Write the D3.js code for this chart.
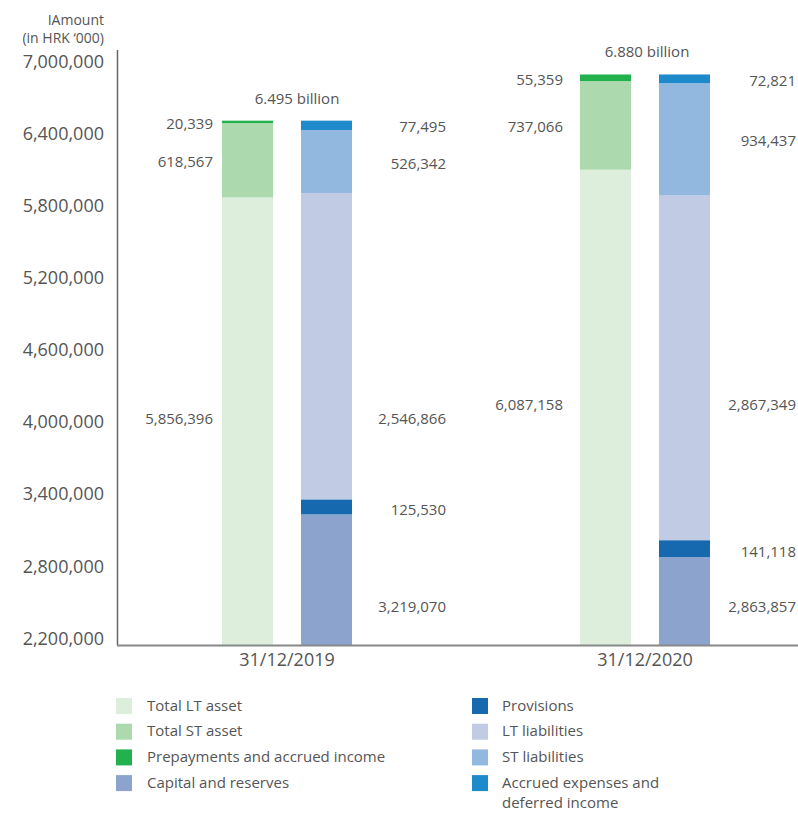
<!DOCTYPE html>
<html>
<head>
<meta charset="utf-8">
<script src="https://cdn.jsdelivr.net/npm/d3@7"></script>
<style>
  html, body { margin: 0; padding: 0; background: #fff; }
  svg { display: block; font-family: "Open Sans", sans-serif; }
</style>
</head>
<body>
<svg id="chart" width="798" height="813"></svg>
<script>
// ---------------- data ----------------
const categories = ["31/12/2019", "31/12/2020"];
const totalLTAsset = [5856396, 6087158];
const totalSTAsset = [618567, 737066];
const prepayments = [20339, 55359];
const capitalReserves = [3219070, 2863857];
const provisions = [125530, 141118];
const ltLiabilities = [2546866, 2867349];
const stLiabilities = [526342, 934437];
const accruedExpenses = [77495, 72821];
const totalLabels = ["6.495 billion", "6.880 billion"];
const yTicks = [2200000, 2800000, 3400000, 4000000, 4600000, 5200000, 5800000, 6400000, 7000000];

const seriesNames = {
  ltAsset: ["Total LT asset"], stAsset: ["Total ST asset"], prepay: ["Prepayments and accrued income"],
  capital: ["Capital and reserves"], prov: ["Provisions"], ltLiab: ["LT liabilities"],
  stLiab: ["ST liabilities"], accrued: ["Accrued expenses and", "deferred income"]
};
const colors = {
  ltAsset: "#DDEEDC", stAsset: "#ADD9AE", prepay: "#22B14C", capital: "#8BA3CD",
  prov: "#1669AE", ltLiab: "#C1CBE4", stLiab: "#93B8E0", accrued: "#1E89CB"
};

// ---------------- setup ----------------
const svg = d3.select("#chart");
const textColor = "#555";
const fmt = d3.format(",");

const x0 = d3.scaleBand().domain(categories).range([108, 824]);
const x1 = d3.scaleBand().domain(["assets", "liabilities"]).range([114, 244]).paddingInner(0.3544);
const xl = d3.scaleBand().domain(categories).range([113, 813]); // label layout
const y = d3.scaleLinear().domain([2133000, 7000000]).range([645, 60]).clamp(true);

const rows = categories.map((c, i) => ({
  cat: c,
  ltAsset: totalLTAsset[i], stAsset: totalSTAsset[i], prepay: prepayments[i],
  capital: capitalReserves[i], prov: provisions[i], ltLiab: ltLiabilities[i],
  stLiab: stLiabilities[i], accrued: accruedExpenses[i]
}));
const assetKeys = ["ltAsset", "stAsset", "prepay"];
const liabKeys = ["capital", "prov", "ltLiab", "stLiab", "accrued"];
const assetStack = d3.stack().keys(assetKeys)(rows);
const liabStack = d3.stack().keys(liabKeys)(rows);

// ---------------- axes ----------------
const yAxis = svg.append("g").attr("transform", "translate(117,0)")
  .call(d3.axisLeft(y).tickValues(yTicks).tickFormat(fmt).tickSize(0).tickPadding(13));
yAxis.select(".domain").remove();
yAxis.selectAll("text").attr("font-size", 18).attr("fill", textColor)
  .attr("font-family", "Open Sans").attr("dy", "0.4em");
svg.append("line").attr("x1", 117.5).attr("x2", 117.5).attr("y1", 50).attr("y2", y.range()[0])
  .attr("stroke", "#666").attr("stroke-width", 1.5);

const xAxis = svg.append("g").attr("transform", `translate(0,${y.range()[0]})`)
  .call(d3.axisBottom(x0).tickSize(0).tickPadding(8));
xAxis.select(".domain").remove();
xAxis.selectAll("text").attr("font-size", 18).attr("fill", textColor).attr("font-family", "Open Sans");

// y title
svg.append("text").attr("x", 104).attr("y", 25).attr("text-anchor", "end")
  .attr("font-size", 14).attr("fill", textColor).text("IAmount");
svg.append("text").attr("x", 104).attr("y", 43).attr("text-anchor", "end")
  .attr("font-size", 14).attr("fill", textColor).text("(in HRK ‘000)");

// ---------------- bars ----------------
function drawStack(stack, side) {
  svg.append("g").selectAll("g").data(stack).join("g")
    .attr("fill", d => colors[d.key])
    .selectAll("rect").data(d => d).join("rect")
    .attr("x", d => x0(d.data.cat) + x1(side))
    .attr("width", x1.bandwidth())
    .attr("y", d => y(d[1]))
    .attr("height", d => y(d[0]) - y(d[1]));
}
drawStack(assetStack, "assets");
drawStack(liabStack, "liabilities");

// x axis line (over bars)
svg.append("line").attr("x1", 117).attr("x2", 798)
  .attr("y1", y.range()[0] + 0.5).attr("y2", y.range()[0] + 0.5)
  .attr("stroke", "#888").attr("stroke-width", 2);

// ---------------- value labels ----------------
const labG = svg.append("g").attr("font-size", 15).attr("fill", textColor).attr("text-anchor", "end");
function mid(seg) { return (y(seg[0]) + y(seg[1])) / 2; }
function segOf(stack, key, i) { return stack.find(s => s.key === key)[i]; }

categories.forEach((c, i) => {
  const leftX = xl(c) + 100;
  const rightX = xl(c) + 333;
  const ltRow = mid(segOf(assetStack, "ltAsset", i)) + 3;
  // assets
  labG.append("text").attr("x", leftX).attr("y", mid(segOf(assetStack, "prepay", i)) + 7).text(fmt(prepayments[i]));
  labG.append("text").attr("x", leftX).attr("y", mid(segOf(assetStack, "stAsset", i)) + 7).text(fmt(totalSTAsset[i]));
  labG.append("text").attr("x", leftX).attr("y", ltRow).text(fmt(totalLTAsset[i]));
  // liabilities
  labG.append("text").attr("x", rightX).attr("y", mid(segOf(liabStack, "accrued", i)) + 7).text(fmt(accruedExpenses[i]));
  labG.append("text").attr("x", rightX).attr("y", mid(segOf(liabStack, "stLiab", i)) + 7).text(fmt(stLiabilities[i]));
  labG.append("text").attr("x", rightX).attr("y", ltRow).text(fmt(ltLiabilities[i]));
  labG.append("text").attr("x", rightX).attr("y", mid(segOf(liabStack, "prov", i)) + 8).text(fmt(provisions[i]));
  labG.append("text").attr("x", rightX).attr("y", y.range()[0] - 33).text(fmt(capitalReserves[i]));
  // total
  const tot = liabStack[liabStack.length - 1][i][1];
  svg.append("text").attr("x", xl(c) + 184).attr("y", y(tot) - 17)
    .attr("text-anchor", "middle").attr("font-size", 15).attr("fill", textColor)
    .text(totalLabels[i]);
});

// ---------------- legend ----------------
const legendCols = [
  { keys: ["ltAsset", "stAsset", "prepay", "capital"], sx: 116, tx: 147 },
  { keys: ["prov", "ltLiab", "stLiab", "accrued"], sx: 472, tx: 502 }
];
const legendRowY = d3.scaleLinear().domain([0, 1]).range([697, 722.7]);
legendCols.forEach(col => {
  col.keys.forEach((k, j) => {
    const ty = legendRowY(j);
    svg.append("rect").attr("x", col.sx).attr("y", ty + 1).attr("width", 16).attr("height", 16)
      .attr("fill", colors[k]);
    seriesNames[k].forEach((line, li) => {
      svg.append("text").attr("x", col.tx).attr("y", ty + 13.5 + li * 20.5)
        .attr("font-size", 15).attr("fill", textColor).text(line);
    });
  });
});
</script>
</body>
</html>
